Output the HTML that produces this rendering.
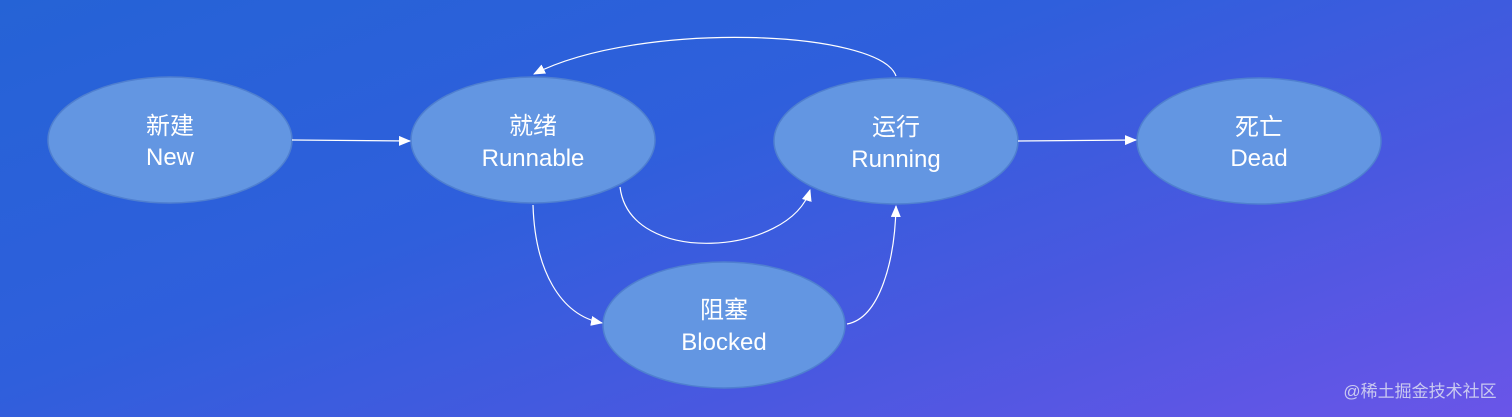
<!DOCTYPE html>
<html><head><meta charset="utf-8"><style>
html,body{margin:0;padding:0}
body{width:1512px;height:417px;overflow:hidden;background:linear-gradient(160deg,#2563d6 0%,#2f5fdc 40%,#4a58e0 70%,#6a55e8 100%);}
svg{position:absolute;left:0;top:0}
text{font-family:"Liberation Sans","Noto Sans CJK SC",sans-serif;fill:#fff;font-size:24px;text-anchor:middle}
</style></head><body>
<svg width="1512" height="417" viewBox="0 0 1512 417">
<defs><marker id="a" markerWidth="12" markerHeight="10" refX="11" refY="5" orient="auto" markerUnits="userSpaceOnUse"><path d="M0,0 L12,5 L0,10 Z" fill="#fff"/></marker></defs>
<g fill="#6396e2" stroke="#4f7fd0" stroke-width="1.5">
<ellipse cx="170" cy="140" rx="122" ry="63"/>
<ellipse cx="533" cy="140" rx="122" ry="63"/>
<ellipse cx="896" cy="141" rx="122" ry="63"/>
<ellipse cx="1259" cy="141" rx="122" ry="63"/>
<ellipse cx="724" cy="325" rx="121" ry="63"/>
</g>
<g fill="none" stroke="#fff" stroke-width="1.2" marker-end="url(#a)">
<path d="M292 140 L410 141"/>
<path d="M1018 141 L1136 140"/>
<path d="M896 76 C880 30 640 20 534 74"/>
<path d="M620 187 C630 268 790 255 810 190"/>
<path d="M533 205 C535 270 560 315 602 323"/>
<path d="M847 324 C880 318 895 260 896 206"/>
</g>
<text x="170" y="134">新建</text><text x="170" y="165">New</text>
<text x="533" y="134">就绪</text><text x="533" y="166">Runnable</text>
<text x="896" y="135">运行</text><text x="896" y="167">Running</text>
<text x="1259" y="135">死亡</text><text x="1259" y="166">Dead</text>
<text x="724" y="318">阻塞</text><text x="724" y="350">Blocked</text>
<text x="1420" y="397" style="font-size:17px;fill:#c9c9f0">@稀土掘金技术社区</text>
</svg>
</body></html>
